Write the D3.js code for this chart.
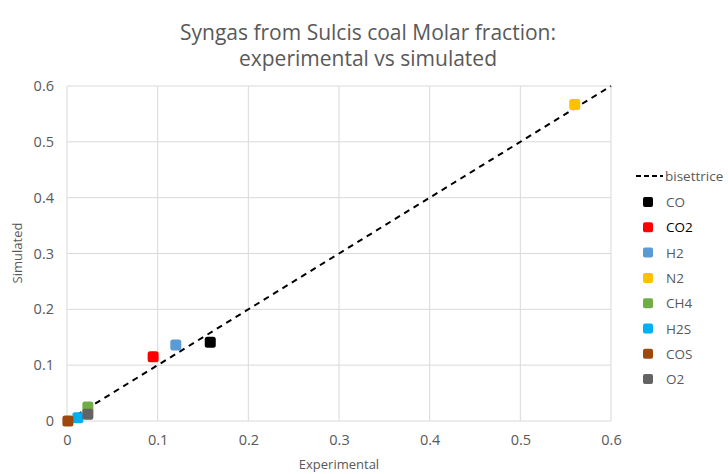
<!DOCTYPE html>
<html>
<head>
<meta charset="utf-8">
<script src="https://cdn.jsdelivr.net/npm/d3@7"></script>
<style>
  body { margin: 0; background: #fff; }
  text { font-family: "Open Sans", "Liberation Sans", sans-serif; }
</style>
</head>
<body>
<script>
// data
const gases = ["CO", "CO2", "H2", "N2", "CH4", "H2S", "COS", "O2"];
const experimental = [0.158, 0.095, 0.120, 0.560, 0.023, 0.012, 0.001, 0.023];
const simulated = [0.141, 0.115, 0.136, 0.567, 0.025, 0.006, 0.000, 0.012];
const colors = ["#000000", "#ff0000", "#5b9bd5", "#ffc000", "#70ad47", "#00b0f0", "#9e480e", "#636363"];
const ticks = [0, 0.1, 0.2, 0.3, 0.4, 0.5, 0.6];
const bisettrice = [[0, 0], [0.6, 0.6]];

const W = 728, H = 474;
const svg = d3.select("body").append("svg").attr("width", W).attr("height", H);

const x = d3.scaleLinear().domain([0, 0.6]).range([67, 611]);
const y = d3.scaleLinear().domain([0, 0.6]).range([421, 86]);

// title
svg.append("text").attr("x", 368).attr("y", 40).attr("text-anchor", "middle")
  .attr("font-size", 21).attr("fill", "#595959").text("Syngas from Sulcis coal Molar fraction:");
svg.append("text").attr("x", 368).attr("y", 66).attr("text-anchor", "middle")
  .attr("font-size", 21).attr("fill", "#595959").text("experimental vs simulated");

// gridlines
svg.append("g").selectAll("line").data(ticks).join("line")
  .attr("x1", x(0)).attr("x2", x(0.6)).attr("y1", d => y(d)).attr("y2", d => y(d))
  .attr("stroke", "#d9d9d9").attr("stroke-width", 1);
svg.append("g").selectAll("line").data(ticks).join("line")
  .attr("x1", d => x(d)).attr("x2", d => x(d)).attr("y1", y(0)).attr("y2", y(0.6))
  .attr("stroke", "#d9d9d9").attr("stroke-width", 1);

// axes (labels only)
const fmt = d => d === 0 ? "0" : d3.format(".1f")(d);
const xAxis = svg.append("g").attr("transform", `translate(0,${y(0)})`)
  .call(d3.axisBottom(x).tickValues(ticks).tickFormat(fmt).tickSize(0).tickPadding(14));
const yAxis = svg.append("g").attr("transform", `translate(${x(0)},0)`)
  .call(d3.axisLeft(y).tickValues(ticks).tickFormat(fmt).tickSize(0).tickPadding(13));
[xAxis, yAxis].forEach(a => {
  a.select(".domain").remove();
  a.selectAll("text").attr("font-size", 14.5).attr("fill", "#595959")
    .attr("font-family", "\"Open Sans\", sans-serif");
});

svg.append("text").attr("x", 339).attr("y", 469).attr("text-anchor", "middle")
  .attr("font-size", 13).attr("fill", "#595959").text("Experimental");
svg.append("text").attr("transform", "translate(22,253) rotate(-90)").attr("text-anchor", "middle")
  .attr("font-size", 13).attr("fill", "#595959").text("Simulated");

// bisector line
svg.append("path").datum(bisettrice)
  .attr("d", d3.line().x(d => x(d[0])).y(d => y(d[1])))
  .attr("fill", "none").attr("stroke", "#000").attr("stroke-width", 2)
  .attr("stroke-dasharray", "6,5");

// points
const pts = gases.map((g, i) => ({ g, ex: experimental[i], sim: simulated[i], c: colors[i] }));
svg.append("g").selectAll("rect").data(pts).join("rect")
  .attr("x", d => x(d.ex) - 5.5).attr("y", d => y(d.sim) - 5.5)
  .attr("width", 11).attr("height", 11).attr("rx", 2.5)
  .attr("fill", d => d.c);

// legend
const leg = svg.append("g");
leg.append("line").attr("x1", 636).attr("x2", 663).attr("y1", 176).attr("y2", 176)
  .attr("stroke", "#000").attr("stroke-width", 2).attr("stroke-dasharray", "5,3");
leg.append("text").attr("x", 665).attr("y", 181).attr("font-size", 13.5).attr("fill", "#595959").text("bisettrice");
const items = leg.selectAll("g.item").data(pts).join("g").attr("class", "item")
  .attr("transform", (d, i) => `translate(648,${202 + i * 25.3})`);
items.append("rect").attr("x", -5).attr("y", -5).attr("width", 10).attr("height", 10).attr("rx", 2)
  .attr("fill", d => d.c);
items.append("text").attr("x", 18).attr("y", 5).attr("font-size", 13.5)
  .attr("fill", d => d.g === "CO2" ? "#000" : "#595959").text(d => d.g);
</script>
</body>
</html>
